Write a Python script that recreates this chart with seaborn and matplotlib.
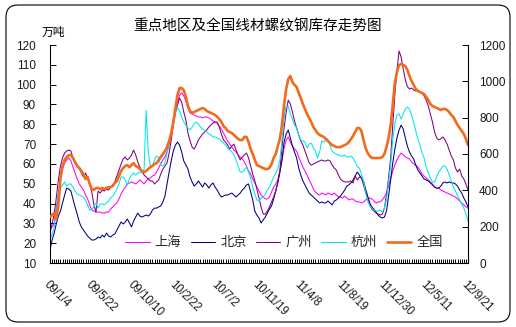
import numpy as np
import pandas as pd
import matplotlib
matplotlib.use("Agg")
import matplotlib.pyplot as plt
import matplotlib.transforms as mtransforms
import seaborn as sns
from matplotlib.patches import FancyBboxPatch
from matplotlib.lines import Line2D

sns.set_theme(style="white")
plt.rcParams['font.family'] = ['Liberation Sans', 'Noto Sans CJK SC']
plt.rcParams['axes.unicode_minus'] = False

# ---- data: weekly inventory, 万吨 (regions) and 全国 on the secondary axis ----
date_labels = ['09/1/4', '09/5/22', '09/10/10', '10/2/22', '10/7/2', '10/11/19',
               '11/4/8', '11/8/19', '11/12/30', '12/5/11', '12/9/21']

shanghai = [
    26.6, 28.2, 29.7, 37.7, 44.8, 52.4, 57.4, 60.5, 62.0, 63.0,
    61.5, 58.4, 55.4, 52.4, 49.9, 48.3, 46.8, 44.3, 42.3, 39.3,
    36.7, 36.2, 35.7, 35.7, 35.7, 35.2, 35.2, 35.7, 35.7, 37.2,
    38.3, 39.3, 40.3, 42.3, 44.8, 46.8, 48.3, 49.9, 50.4, 50.9,
    50.4, 49.9, 50.9, 51.9, 50.9, 49.9, 51.4, 52.4, 52.9, 53.9,
    54.4, 55.9, 57.9, 60.0, 62.0, 63.5, 66.0, 70.0, 74.6, 80.1,
    86.2, 90.7, 94.8, 95.8, 94.3, 91.7, 88.2, 85.7, 85.2, 84.7,
    84.2, 83.7, 83.7, 83.2, 83.7, 83.7, 83.2, 82.6, 81.6, 81.1,
    80.6, 79.1, 77.6, 75.6, 73.6, 71.6, 70.0, 68.5, 67.0, 66.0,
    64.5, 63.5, 62.5, 61.0, 58.9, 56.4, 54.9, 52.4, 50.4, 48.3,
    46.3, 44.3, 43.3, 42.3, 42.3, 43.3, 45.8, 48.3, 49.9, 51.9,
    55.9, 62.0, 68.0, 72.1, 73.6, 71.0, 69.0, 67.5, 66.5, 63.5,
    61.0, 58.4, 56.4, 54.4, 51.9, 49.9, 47.3, 45.8, 44.8, 44.3,
    45.3, 44.8, 44.3, 45.3, 44.8, 44.3, 45.3, 44.3, 43.3, 43.3,
    42.8, 43.8, 42.8, 41.8, 42.3, 42.3, 41.3, 40.8, 40.8, 40.3,
    40.8, 41.8, 42.3, 42.8, 42.3, 41.3, 40.3, 40.8, 40.8, 41.8,
    43.3, 45.3, 48.8, 52.9, 56.4, 59.4, 62.0, 64.0, 65.5, 64.5,
    63.5, 63.0, 62.5, 61.0, 60.0, 59.4, 58.4, 56.9, 54.9, 53.9,
    52.9, 51.9, 50.9, 49.9, 48.3, 47.8, 47.8, 46.8, 46.3, 45.8,
    45.3, 44.8, 44.3, 43.8, 43.3, 42.3, 41.3, 40.3, 39.3, 38.3,
    37.7,
]

beijing = [
    16.6, 21.6, 25.1, 29.7, 33.7, 36.2, 40.3, 44.3, 47.8, 47.3,
    46.3, 42.3, 38.3, 34.7, 30.7, 28.2, 26.6, 25.1, 23.6, 22.6,
    21.6, 21.6, 22.1, 23.1, 22.6, 24.1, 23.1, 25.1, 23.6, 23.1,
    24.1, 24.6, 26.6, 28.7, 30.7, 29.7, 30.7, 32.2, 30.2, 28.2,
    31.2, 33.2, 35.2, 33.7, 33.2, 33.7, 34.2, 33.7, 34.7, 36.7,
    37.7, 37.7, 38.3, 38.8, 40.8, 43.8, 49.9, 55.9, 61.5, 66.5,
    69.5, 71.0, 69.5, 66.0, 61.5, 59.4, 57.4, 53.4, 50.9, 48.8,
    49.9, 51.4, 49.9, 48.3, 50.4, 49.4, 47.8, 49.4, 50.4, 48.3,
    46.8, 44.8, 43.3, 43.8, 44.3, 44.3, 44.8, 45.3, 44.3, 43.3,
    44.3, 45.3, 46.8, 47.8, 49.4, 49.9, 45.8, 41.8, 36.2, 34.2,
    32.7, 30.2, 31.7, 33.2, 35.2, 37.2, 38.8, 42.3, 46.3, 50.4,
    55.9, 62.0, 71.0, 75.1, 77.1, 73.1, 69.0, 66.0, 63.0, 57.9,
    54.4, 51.4, 49.4, 47.3, 45.3, 44.3, 43.3, 42.3, 41.3, 40.3,
    40.8, 40.3, 40.3, 41.3, 40.3, 39.3, 41.3, 41.8, 42.8, 43.8,
    45.3, 46.8, 48.8, 49.4, 50.4, 51.9, 53.9, 55.9, 54.4, 52.9,
    51.4, 47.3, 43.8, 40.3, 38.3, 37.2, 35.7, 34.2, 33.2, 32.7,
    33.2, 36.2, 43.8, 51.9, 60.5, 67.5, 73.1, 77.1, 79.6, 77.6,
    73.1, 69.0, 66.0, 64.0, 62.5, 59.4, 56.9, 55.4, 53.9, 52.4,
    51.9, 51.4, 50.4, 49.4, 48.3, 47.8, 47.8, 48.8, 50.4, 50.9,
    50.4, 50.9, 50.4, 50.4, 49.9, 48.8, 46.8, 45.3, 42.8, 40.8,
    38.3,
]

guangzhou = [
    25.6, 29.7, 34.7, 42.8, 51.9, 58.9, 63.0, 65.5, 66.5, 67.0,
    66.5, 63.0, 60.5, 58.9, 57.9, 55.4, 53.4, 55.4, 52.9, 49.9,
    45.8, 39.3, 35.7, 46.3, 45.3, 46.8, 46.3, 47.3, 46.8, 48.3,
    49.4, 50.9, 53.9, 56.9, 59.9, 62.5, 63.5, 62.0, 63.0, 64.5,
    67.0, 64.5, 61.0, 58.4, 56.4, 54.4, 53.4, 52.4, 51.4, 51.4,
    49.9, 50.9, 51.9, 54.9, 57.4, 58.9, 60.5, 65.5, 72.1, 79.6,
    85.7, 89.7, 93.2, 91.2, 86.2, 82.1, 75.6, 71.6, 68.5, 67.5,
    69.5, 72.1, 73.6, 75.1, 76.1, 77.1, 78.6, 79.6, 80.6, 81.1,
    81.1, 78.6, 75.1, 72.1, 71.0, 69.5, 67.5, 69.0, 70.0, 67.0,
    64.5, 62.0, 63.5, 64.5, 65.5, 63.0, 58.9, 54.9, 51.4, 47.3,
    42.8, 38.3, 34.7, 34.7, 36.2, 38.3, 40.8, 43.3, 46.3, 50.9,
    56.9, 68.5, 78.1, 86.2, 92.2, 90.2, 86.2, 81.6, 78.1, 74.6,
    71.6, 69.5, 66.5, 63.5, 60.5, 59.4, 59.9, 60.5, 61.0, 61.5,
    62.0, 61.5, 61.5, 62.0, 61.5, 59.4, 57.9, 56.9, 54.4, 52.4,
    51.4, 50.9, 50.9, 50.9, 51.4, 50.4, 53.9, 51.9, 53.4, 52.9,
    49.4, 45.8, 42.8, 39.3, 37.2, 36.2, 35.2, 34.7, 34.2, 34.7,
    37.7, 44.3, 52.9, 63.0, 79.6, 94.8, 107.0, 117.0, 114.0, 108.0,
    102.5, 99.0, 97.8, 98.3, 97.3, 96.8, 97.3, 96.3, 95.8, 94.3,
    92.2, 89.2, 85.2, 81.1, 76.1, 73.1, 72.1, 72.6, 73.6, 72.1,
    70.0, 67.0, 64.0, 62.0, 57.9, 55.9, 57.4, 53.9, 52.4, 49.9,
    46.8,
]

hangzhou = [
    22.1, 24.6, 27.7, 36.7, 45.3, 47.8, 49.4, 50.9, 48.8, 49.9,
    49.9, 48.3, 46.3, 44.8, 44.3, 43.8, 43.3, 41.8, 39.3, 36.7,
    37.2, 38.3, 40.3, 37.7, 39.8, 39.8, 39.3, 40.3, 41.3, 42.8,
    43.8, 45.3, 47.3, 49.9, 53.4, 53.4, 51.9, 49.4, 52.4, 54.4,
    55.4, 54.4, 55.4, 55.9, 55.4, 57.0, 87.0, 66.0, 59.0, 58.9,
    62.0, 64.0, 63.0, 59.4, 58.9, 60.5, 65.5, 70.0, 75.6, 81.1,
    85.7, 88.2, 86.7, 83.7, 81.1, 79.6, 78.1, 77.1, 78.6, 80.1,
    81.1, 80.1, 78.6, 77.6, 77.1, 76.1, 75.1, 74.6, 73.6, 73.6,
    73.1, 72.6, 71.6, 70.5, 69.5, 68.0, 67.0, 66.0, 64.5, 62.0,
    58.9, 55.9, 55.9, 56.9, 58.4, 55.9, 52.9, 48.3, 44.8, 41.8,
    41.3, 42.8, 43.3, 44.8, 46.8, 48.3, 50.9, 53.4, 55.4, 57.4,
    62.0, 72.1, 83.2, 89.2, 89.2, 85.2, 82.6, 79.6, 78.1, 74.6,
    72.1, 71.6, 71.0, 68.0, 70.0, 70.5, 68.0, 66.5, 63.0, 66.0,
    71.6, 71.0, 72.1, 72.6, 69.0, 66.5, 65.5, 65.0, 64.5, 64.0,
    64.0, 64.5, 63.5, 63.5, 64.0, 63.0, 61.0, 58.9, 57.9, 54.9,
    51.4, 45.3, 41.3, 38.8, 37.7, 36.7, 36.2, 36.2, 36.7, 35.7,
    37.7, 42.3, 50.9, 59.4, 72.1, 80.1, 84.7, 85.2, 82.6, 85.2,
    87.7, 88.7, 87.7, 84.7, 80.6, 76.6, 72.6, 69.5, 65.5, 63.0,
    58.4, 55.4, 52.9, 50.9, 50.9, 53.4, 55.9, 57.4, 58.9, 58.9,
    57.4, 54.4, 51.4, 48.3, 46.3, 43.8, 41.8, 39.8, 37.7, 34.7,
    31.2,
]

national = [
    253, 264, 275, 242, 319, 468, 534, 567, 583, 594,
    594, 578, 556, 534, 523, 506, 490, 462, 473, 435,
    407, 402, 413, 413, 407, 413, 407, 413, 418, 418,
    424, 440, 451, 479, 506, 523, 534, 539, 528, 539,
    550, 534, 528, 517, 506, 501, 506, 517, 528, 534,
    545, 550, 567, 583, 600, 616, 638, 671, 715, 776,
    853, 925, 963, 963, 952, 914, 864, 837, 826, 831,
    837, 842, 848, 853, 848, 837, 831, 826, 820, 815,
    804, 793, 776, 754, 743, 727, 721, 715, 705, 694,
    683, 677, 677, 694, 694, 666, 627, 600, 567, 539,
    534, 528, 523, 517, 517, 523, 545, 578, 600, 644,
    683, 760, 870, 958, 1013, 1029, 996, 980, 969, 936,
    908, 875, 848, 820, 798, 776, 749, 732, 715, 705,
    699, 694, 683, 671, 660, 649, 644, 638, 638, 638,
    644, 649, 655, 666, 683, 699, 721, 743, 743, 727,
    677, 633, 605, 589, 578, 578, 578, 578, 578, 583,
    600, 638, 688, 760, 870, 991, 1051, 1090, 1095, 1090,
    1084, 1062, 1029, 1002, 980, 958, 947, 941, 936, 930,
    914, 897, 875, 864, 859, 853, 848, 842, 848, 848,
    842, 831, 815, 804, 782, 760, 743, 727, 710, 683,
    649,
]

label_step = 20

df = pd.DataFrame({
    'week': np.arange(len(shanghai)),
    '上海': shanghai,
    '北京': beijing,
    '广州': guangzhou,
    '杭州': hangzhou,
    '全国': national,
})

region_styles = [
    ('上海', '#FF00FF'),
    ('北京', '#000080'),
    ('广州', '#800080'),
    ('杭州', '#00E5EE'),
]
national_color = '#F26A1B'
thin_lw = 0.75
thick_lw = 1.9

W, H = 516, 327
fig = plt.figure(figsize=(W / 100, H / 100), dpi=100)
fig.patch.set_facecolor('white')

ax = fig.add_axes([50 / W, 1 - 263 / H, 418 / W, 218 / H])
ax2 = ax.twinx()

for name, col in region_styles:
    sns.lineplot(data=df, x='week', y=name, ax=ax, color=col, linewidth=thin_lw, legend=False)
sns.lineplot(data=df, x='week', y='全国', ax=ax2, color=national_color, linewidth=thick_lw, legend=False)

# axes ranges and ticks
n = len(df)
ax.set_xlim(0, n - 1)
ax.set_ylim(10, 120)
ax.set_yticks(range(10, 121, 10))
ax2.set_ylim(0, 1200)
ax2.set_yticks(range(0, 1201, 200))

xt_labels = [date_labels[k // label_step] if k % label_step == 0 else '' for k in range(n)]
ax.set_xticks(range(n))
ax.set_xticklabels(xt_labels, rotation=-45, ha='left', va='top', rotation_mode='anchor',
                   fontsize=8.3, color='#1a1a1a')
offset = mtransforms.ScaledTranslation(5 / 100, 0, fig.dpi_scale_trans)
for lbl in ax.get_xticklabels():
    lbl.set_transform(lbl.get_transform() + offset)

ax.tick_params(axis='x', direction='in', length=3, width=0.7, color='black', pad=11, bottom=True)
ax.tick_params(axis='y', direction='in', length=4, width=0.7, color='black', pad=10,
               labelsize=8.5, labelcolor='#1a1a1a', left=True)
ax2.tick_params(axis='y', direction='in', length=4, width=0.7, color='black', pad=8,
                labelsize=8.5, labelcolor='#1a1a1a', right=True)

for a in (ax, ax2):
    a.set_xlabel('')
    a.set_ylabel('')
    a.grid(False)
    a.spines['top'].set_visible(False)
    for s in ('left', 'right', 'bottom'):
        a.spines[s].set_color('black')
        a.spines[s].set_linewidth(0.8)
ax2.spines['left'].set_visible(False)
ax2.spines['bottom'].set_visible(False)
ax.spines['right'].set_visible(False)
ax.set_facecolor('none')

# legend along the bottom of the plot area
handles = [Line2D([0], [0], color=c, lw=thin_lw) for _, c in region_styles]
handles.append(Line2D([0], [0], color=national_color, lw=thick_lw))
labels = [nm for nm, _ in region_styles] + ['全国']
ax2.legend(handles, labels, loc='center', bbox_to_anchor=(0.56, 0.092), ncol=5,
           frameon=False, fontsize=9.5, handlelength=1.85, columnspacing=0.7,
           handletextpad=0.4, borderaxespad=0, borderpad=0)

fig.text(258 / W, 1 - 26 / H, '重点地区及全国线材螺纹钢库存走势图', ha='center', va='center',
         fontsize=10.5, color='black')
fig.text(53 / W, 1 - 33 / H, '万吨', ha='center', va='center', fontsize=8.5, color='black')

# rounded outer frame
frame = FancyBboxPatch((6, 5), 504, 317, boxstyle='round,pad=0,rounding_size=12',
                       transform=None, fill=False, edgecolor='black', linewidth=0.8)
fig.add_artist(frame)

fig.savefig('out.png', dpi=100)
